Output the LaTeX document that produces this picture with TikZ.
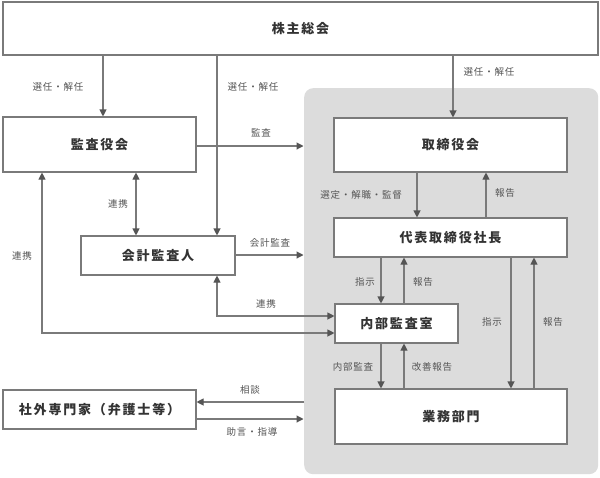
\documentclass[tikz,border=0pt]{standalone}
\usepackage{fontspec}
\setmainfont{Noto Sans CJK JP}
\newfontfamily\boxfont[LetterSpace=14]{Noto Sans CJK JP}
\newfontfamily\lblfont[LetterSpace=8]{Noto Sans CJK JP}
\usetikzlibrary{arrows.meta}
\definecolor{ln}{HTML}{7A7A7A}
\definecolor{tip}{HTML}{555555}
\definecolor{grp}{HTML}{DCDCDC}
\definecolor{boxtxt}{HTML}{333333}
\definecolor{lbltxt}{HTML}{555555}
\tikzset{
  box/.style={draw=ln, line width=1.1pt, fill=white, inner sep=0pt,
    font=\boxfont\fontsize{13}{15}\selectfont\bfseries, text=boxtxt},
  lbl/.style={inner sep=0pt, font=\lblfont\fontsize{9.5}{11}\selectfont, text=lbltxt},
  conn/.style={draw=ln, line width=1.1pt},
  arr/.style={conn, -{Triangle[width=7pt,length=7pt,fill=tip,color=tip]}},
  darr/.style={conn, {Triangle[width=7pt,length=7pt,fill=tip,color=tip]}-{Triangle[width=7pt,length=7pt,fill=tip,color=tip]}},
}
\begin{document}
\begin{tikzpicture}[x=1pt,y=-1pt]
\useasboundingbox (0,0) rectangle (600,477);
\fill[white] (0,0) rectangle (600,477);
% group background
\node[fill=grp, rounded corners=9pt, inner sep=0pt, minimum width=294, minimum height=386, anchor=north west] (grp) at (304,88) {};
% boxes
\node[box, minimum width=595, minimum height=53] (sh) at (300.5,28.5) {株主総会};
\node[box, minimum width=193, minimum height=55] (kan) at (99.5,144.5) {監査役会};
\node[box, minimum width=233, minimum height=54] (tori) at (450.5,145) {取締役会};
\node[box, minimum width=233, minimum height=39] (dai) at (450.5,237.5) {代表取締役社長};
\node[box, minimum width=154, minimum height=39] (kai) at (158,255.5) {会計監査人};
\node[box, minimum width=123, minimum height=39] (nai) at (396.5,323.5) {内部監査室};
\node[box, minimum width=232, minimum height=55] (gyo) at (451,416.5) {業務部門};
\node[box, minimum width=193, minimum height=39] (sha) at (99.5,409.5) {社外専門家（弁護士等）};
% x / y guide coordinates
\coordinate (x42) at (42,0);
\coordinate (x103) at (103,0);
\coordinate (x136) at (136,0);
\coordinate (x217) at (217,0);
\coordinate (x381) at (381,0);
\coordinate (x404) at (404,0);
\coordinate (x417) at (417,0);
\coordinate (x453) at (453,0);
\coordinate (x486) at (486,0);
\coordinate (x511) at (511,0);
\coordinate (x534) at (534,0);
\coordinate (y146) at (0,146);
\coordinate (y255) at (0,255);
\coordinate (y316) at (0,316);
\coordinate (y333) at (0,333);
\coordinate (y402) at (0,402);
\coordinate (y419) at (0,419);
\coordinate (gx) at (303.5,0);
% connectors from 株主総会
\draw[arr] (sh.south -| x103) -- (kan.north -| x103);
\draw[arr] (sh.south -| x217) -- (kai.north -| x217);
\draw[arr] (sh.south -| x453) -- (tori.north -| x453);
% 監査
\draw[arr] (kan.east |- y146) -- (gx |- y146);
% 監査役会 <-> 会計監査人
\draw[darr] (kan.south -| x136) -- (kai.north -| x136);
% 会計監査
\draw[arr] (kai.east |- y255) -- (gx |- y255);
% 取締役会 <-> 代表
\draw[arr] (tori.south -| x417) -- (dai.north -| x417);
\draw[arr] (dai.north -| x486) -- (tori.south -| x486);
% 代表 <-> 内部監査室
\draw[arr] (dai.south -| x381) -- (nai.north -| x381);
\draw[arr] (nai.north -| x404) -- (dai.south -| x404);
% 代表 <-> 業務部門
\draw[arr] (dai.south -| x511) -- (gyo.north -| x511);
\draw[arr] (gyo.north -| x534) -- (dai.south -| x534);
% 内部監査室 <-> 業務部門
\draw[arr] (nai.south -| x381) -- (gyo.north -| x381);
\draw[arr] (gyo.north -| x404) -- (nai.south -| x404);
% 連携 lines
\draw[darr] (kai.south -| x217) -- (x217 |- y316) -- (nai.west |- y316);
\draw[darr] (kan.south -| x42) -- (x42 |- y333) -- (nai.west |- y333);
% 社外専門家
\draw[arr] (grp.west |- y402) -- (sha.east |- y402);
\draw[arr] (sha.east |- y419) -- (gx |- y419);
% labels
\node[lbl] (l1) at (58,87) {選任・解任};
\node[lbl] (l2) at (253,87) {選任・解任};
\node[lbl] (l3) at (489,72) {選任・解任};
\node[lbl] (l4) at (261,133) {監査};
\node[lbl] (l5) at (118,204) {連携};
\node[lbl] (l6) at (22,256) {連携};
\node[lbl] (l7) at (270,243) {会計監査};
\node[lbl] (l8) at (266,304) {連携};
\node[lbl, anchor=east] (l9) at (402,195) {選定・解職・監督};
\node[lbl] (l10) at (505,193) {報告};
\node[lbl] (l11) at (365,282) {指示};
\node[lbl] (l12) at (423,282) {報告};
\node[lbl] (l13) at (492,322) {指示};
\node[lbl] (l14) at (553,322) {報告};
\node[lbl] (l15) at (353,367) {内部監査};
\node[lbl] (l16) at (432,367) {改善報告};
\node[lbl] (l17) at (250,390) {相談};
\node[lbl] (l18) at (252,432) {助言・指導};
\end{tikzpicture}
\end{document}
